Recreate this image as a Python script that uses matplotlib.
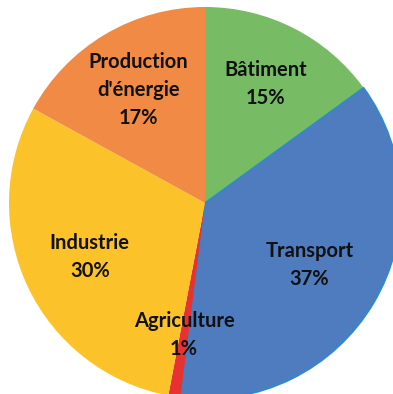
import matplotlib.pyplot as plt
import numpy as np

# Emissions by sector (%)
secteurs = ["Bâtiment", "Transport", "Agriculture", "Industrie", "Production\nd'énergie"]
parts = [15, 37, 1, 30, 17]
couleurs = ["#77BB65", "#4E7CBF", "#E83232", "#FCC229", "#F08A45"]

# radial placement of each label, in pie radii
rayons = [0.68, 0.62, 0.68, 0.65, 0.67]

fig = plt.figure(figsize=(3.93, 3.94), dpi=100)
R = 196
cx, cy = 205, 394 - 203
ax = fig.add_axes([(cx - R) / 393, (cy - R) / 394, 2 * R / 393, 2 * R / 394])

wedges, _ = ax.pie(parts, colors=couleurs, startangle=90, counterclock=False,
                   radius=1, wedgeprops=dict(linewidth=0))
wedges[1].set_edgecolor("#2C8AD2")
wedges[1].set_linewidth(1.2)

for w, nom, p, r in zip(wedges, secteurs, parts, rayons):
    a = np.deg2rad((w.theta1 + w.theta2) / 2)
    ax.text(r * np.cos(a), r * np.sin(a), f"{nom}\n{p}%", ha="center", va="center",
            fontsize=14.5, fontweight="bold", family="Lato", color="#111111",
            linespacing=1.5)

ax.set_xlim(-1, 1)
ax.set_ylim(-1, 1)
ax.set_aspect("equal")
ax.axis("off")

fig.savefig("out.png", dpi=100)
